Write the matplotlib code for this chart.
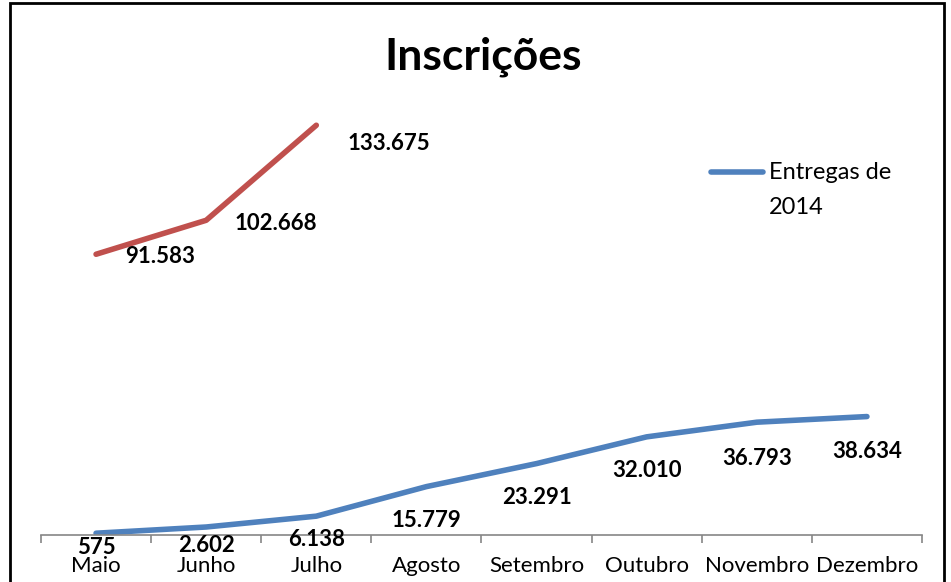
import matplotlib.pyplot as plt
from matplotlib.lines import Line2D
from matplotlib.patches import Rectangle

# --- dados ---
meses = ['Maio', 'Junho', 'Julho', 'Agosto', 'Setembro', 'Outubro', 'Novembro', 'Dezembro']
entregas_2014 = [575, 2602, 6138, 15779, 23291, 32010, 36793, 38634]
entregas_2015 = [91583, 102668, 133675]
rotulos_2014 = ['575', '2.602', '6.138', '15.779', '23.291', '32.010', '36.793', '38.634']
rotulos_2015 = ['91.583', '102.668', '133.675']

AZUL = '#4F81BD'
VERMELHO = '#C0504D'
FONTE = 'Lato'

# deslocamento dos rótulos (pixels)
desl_azul = [-14, -19, -23, -34, -34, -34, -36, -35]
desl_verm = [(29, -2), (28, -3), (31, -18)]

fig = plt.figure(figsize=(9.51, 5.82), dpi=100)
ax = fig.add_axes([0.0431, 0.0808, 0.9264, 0.790])

x = list(range(len(meses)))
ax.plot(x, entregas_2014, color=AZUL, lw=4, solid_capstyle='round', solid_joinstyle='round')
ax.plot(x[:len(entregas_2015)], entregas_2015, color=VERMELHO, lw=4,
        solid_capstyle='round', solid_joinstyle='round')

for xi, yi, txt, dy in zip(x, entregas_2014, rotulos_2014, desl_azul):
    ax.annotate(txt, (xi, yi), xytext=(0, dy), textcoords='offset pixels',
                ha='center', va='center', fontsize=16, fontweight='bold', family=FONTE)
for xi, yi, txt, (dx, dy) in zip(x, entregas_2015, rotulos_2015, desl_verm):
    ax.annotate(txt, (xi, yi), xytext=(dx, dy), textcoords='offset pixels',
                ha='left', va='center', fontsize=16, fontweight='bold', family=FONTE)

ax.set_xlim(-0.5, len(meses) - 0.5)
ax.set_ylim(0, 150000)

for lado in ['left', 'right', 'top']:
    ax.spines[lado].set_visible(False)
ax.spines['bottom'].set_color('#868686')
ax.spines['bottom'].set_linewidth(1.2)
ax.set_yticks([])

ax.set_xticks([i - 0.5 for i in range(len(meses) + 1)])
ax.set_xticklabels([])
ax.tick_params(axis='x', which='major', length=6, width=1.2, color='#868686', direction='out')
ax.set_xticks(x, minor=True)
ax.set_xticklabels(meses, minor=True, fontsize=16, family=FONTE)
ax.tick_params(axis='x', which='minor', length=0, pad=15)

# legenda manual
ax.add_line(Line2D([0.760, 0.819], [0.789, 0.789], transform=ax.transAxes,
                   color=AZUL, lw=4, solid_capstyle='round'))
ax.text(0.826, 0.789, 'Entregas de', transform=ax.transAxes, fontsize=17,
        family=FONTE, va='center', ha='left')
ax.text(0.826, 0.713, '2014', transform=ax.transAxes, fontsize=17,
        family=FONTE, va='center', ha='left')

fig.text(0.508, 0.902, 'Inscrições', ha='center', va='center',
         fontsize=32, fontweight='bold', family=FONTE)

# moldura
fig.patches.append(Rectangle((10 / 951, -0.05), 934 / 951, 1.05 - 3 / 582,
                             transform=fig.transFigure, fill=False,
                             edgecolor='black', lw=2))

fig.savefig('out.png', dpi=100)
